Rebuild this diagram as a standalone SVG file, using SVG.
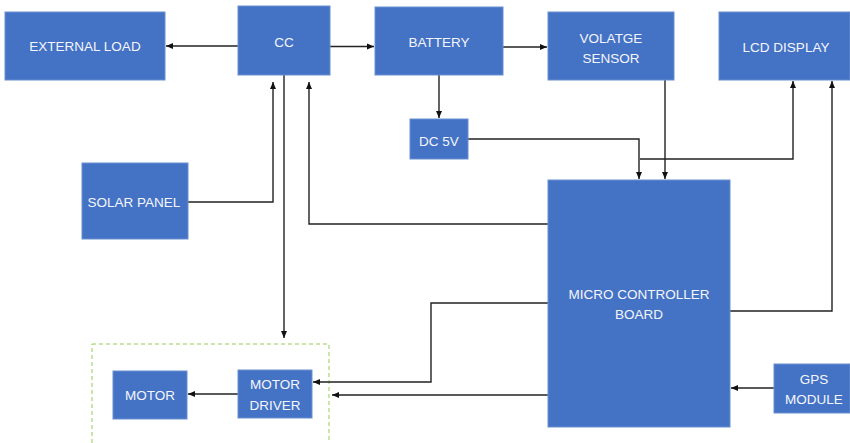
<svg xmlns="http://www.w3.org/2000/svg" width="850" height="443" viewBox="0 0 850 443">
<defs>
<marker id="ah" markerWidth="8" markerHeight="8" refX="7" refY="4" orient="auto" markerUnits="userSpaceOnUse">
<path d="M0,1 L7,4 L0,7 Z" fill="#111"/>
</marker>
<style>
.box{fill:#4472c4;stroke:#6a8fd0;stroke-width:1}
.t{font-family:"Liberation Sans",Arial,sans-serif;font-size:13.5px;fill:#f4f6fb;text-anchor:middle}
.c{fill:none;stroke:#222;stroke-width:1.4}
.a{marker-end:url(#ah)}
</style>
</defs>
<rect width="850" height="443" fill="#fff"/>
<rect x="92" y="344" width="237" height="110" fill="none" stroke="#92d050" stroke-width="1" stroke-dasharray="4,3"/>
<g id="connectors">
<path class="c a" d="M238,46 L166,46"/>
<path class="c a" d="M330,46.5 L374,46.5"/>
<path class="c a" d="M503,47 L547,47"/>
<path class="c a" d="M439,75 L439,118"/>
<path class="c a" d="M468,139 L639,139 L639,179"/>
<path class="c a" d="M665,80 L665,179"/>
<path class="c a" d="M640,159 L793,159 L793,81"/>
<path class="c a" d="M730,311 L832,311 L832,81"/>
<path class="c a" d="M188,202 L273,202 L273,82"/>
<path class="c a" d="M284,75 L284,338"/>
<path class="c a" d="M548,224 L309,224 L309,82"/>
<path class="c a" d="M548,303 L431,303 L431,382 L313,382"/>
<path class="c a" d="M548,395 L332,395"/>
<path class="c a" d="M238,394 L188,394"/>
<path class="c a" d="M774,388 L731,388"/>
</g>
<g id="external-load"><rect class="box" x="5" y="12" width="160" height="68"/><text class="t" x="85" y="51">EXTERNAL LOAD</text></g>
<g id="cc"><rect class="box" x="238" y="6" width="92" height="69"/><text class="t" x="284" y="47">CC</text></g>
<g id="battery"><rect class="box" x="375" y="7" width="128" height="68"/><text class="t" x="439" y="47">BATTERY</text></g>
<g id="voltage-sensor"><rect class="box" x="548" y="12" width="126" height="68"/><text class="t" x="611" y="43">VOLATGE</text><text class="t" x="611" y="63">SENSOR</text></g>
<g id="lcd-display"><rect class="box" x="719" y="12" width="131" height="68"/><text class="t" x="786" y="52">LCD DISPLAY</text></g>
<g id="dc5v"><rect class="box" x="410" y="119" width="58" height="40"/><text class="t" x="439" y="146">DC 5V</text></g>
<g id="solar-panel"><rect class="box" x="82" y="163" width="106" height="76"/><text class="t" x="134" y="207">SOLAR PANEL</text></g>
<g id="micro-controller"><rect class="box" x="548" y="180" width="182" height="247"/><text class="t" x="639" y="299">MICRO CONTROLLER</text><text class="t" x="639" y="319">BOARD</text></g>
<g id="gps-module"><rect class="box" x="774" y="364" width="76" height="49"/><text class="t" x="814" y="384">GPS</text><text class="t" x="814" y="404">MODULE</text></g>
<g id="motor-driver"><rect class="box" x="238" y="370" width="74" height="48"/><text class="t" x="275" y="389">MOTOR</text><text class="t" x="275" y="410">DRIVER</text></g>
<g id="motor"><rect class="box" x="113" y="371" width="74" height="48"/><text class="t" x="150" y="400">MOTOR</text></g>
</svg>
